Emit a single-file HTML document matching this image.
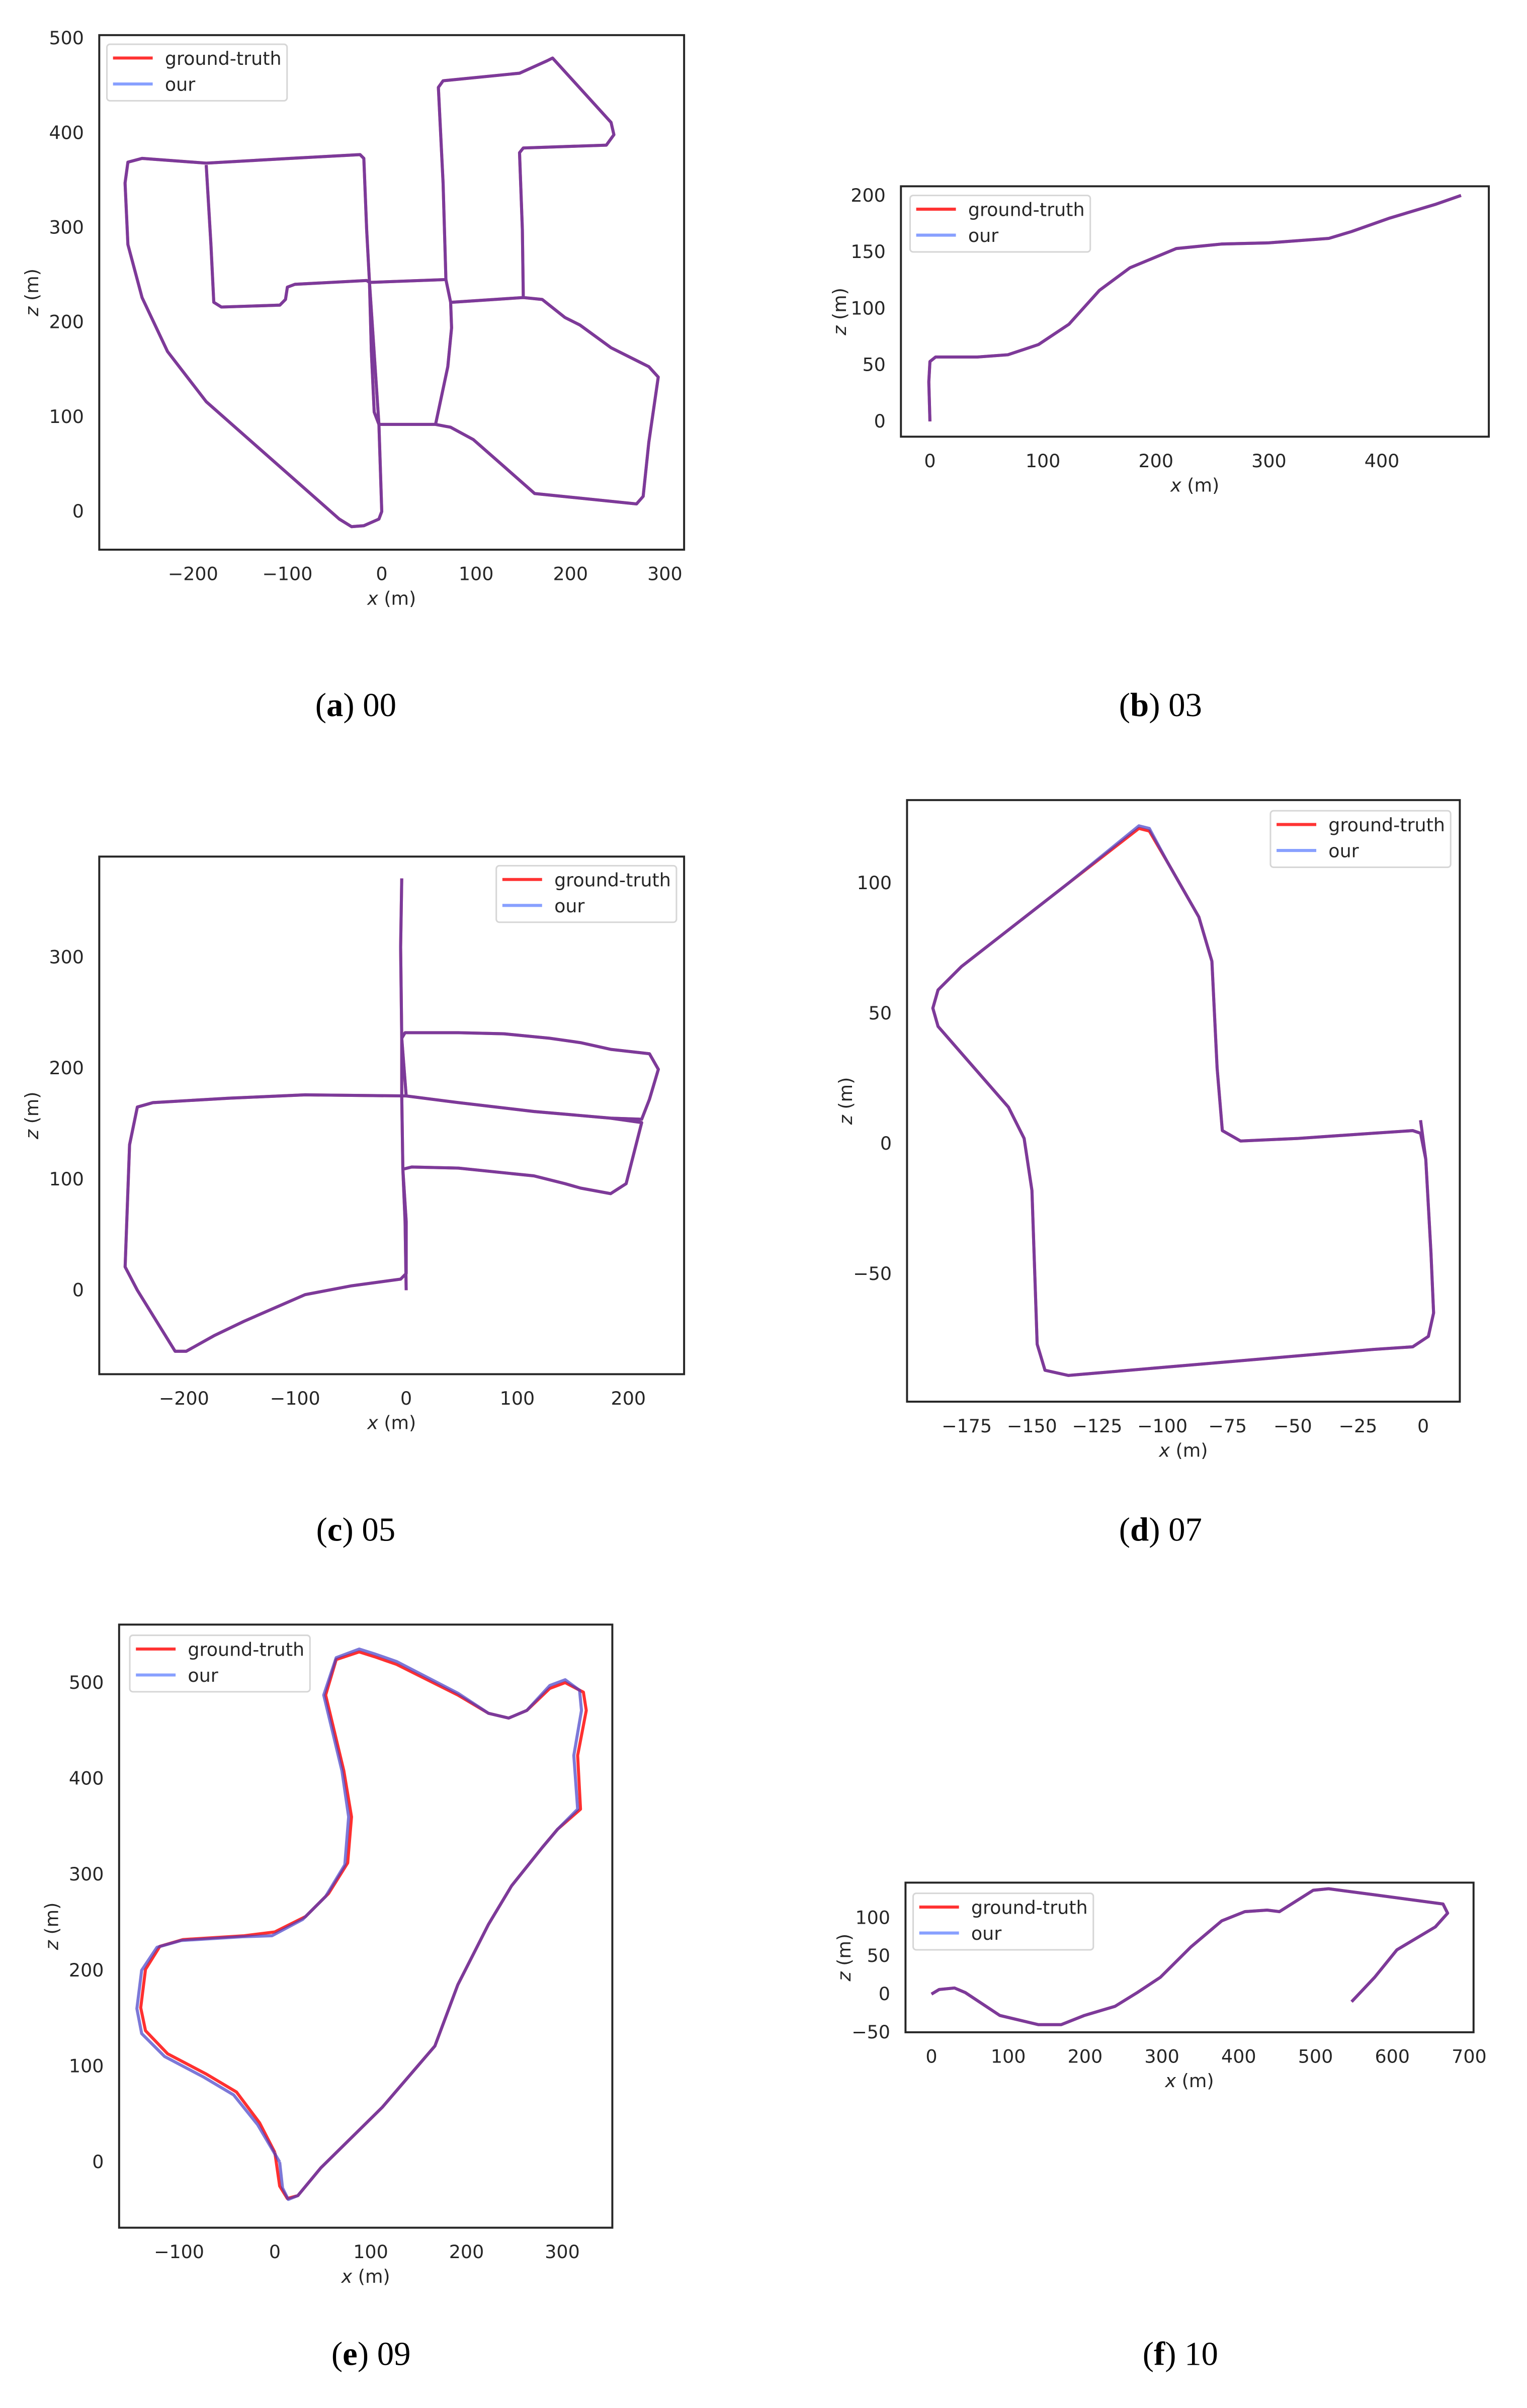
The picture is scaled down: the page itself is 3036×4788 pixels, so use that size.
<!DOCTYPE html>
<html><head><meta charset="utf-8">
<style>
html,body{margin:0;padding:0;background:#fff;}
svg{display:block;}
text{font-family:"DejaVu Sans","Liberation Sans",sans-serif;fill:#262626;}
.cap{font-family:"Liberation Serif",serif;fill:#000;}
</style></head>
<body>
<svg id="fig" xmlns="http://www.w3.org/2000/svg" width="3036" height="4788" viewBox="0 0 1000 1577.08"></svg>
<script>
// ---- data (x, z in metres) ----
const gt00x=[0,-3,-19,-32,-45,-186,-227,-254,-269,-272,-269,-254,-186,-97,-23,-19,-16,-13,-11,-8,-3,24,57,70,74,73,68,65,60,65,146,175,181,243,246,238,150,146,149,150,74,150,170,194,210,243,283,293,283,277,270,162,129,97,73,57,-3,0,-3,-13,68,-13,-16,-92,-100,-102,-108,-170,-178,-181,-186];
const gt00z=[0,-8,-15,-16,-8,116,169,226,282,347,369,373,368,373,377,373,298,242,169,105,92,92,92,153,194,221,245,347,448,455,463,476,479,411,398,387,384,379,298,226,221,226,224,205,197,173,153,142,73,16,8,19,48,76,89,92,92,0,92,242,245,242,244,240,237,224,218,216,221,282,366];
const our00x=gt00x.slice(); const our00z=gt00z.slice();
const gt03x=[0,-1,0,5,42,69,96,123,150,177,218,258,299,353,373,407,447,470];
const gt03z=[0,35,53,57,57,59,68,86,116,136,153,157,158,162,168,180,192,200];
const our03x=[0,-1,0,5,42,69,96,123,150,177,218,258,299,353,373,407,447,470];
const our03z=[0,35,53,57,57,59,68,86,116,136,153,157,158,162,168,180,192,200];
const gt05x=[0,-1,-3,5,47,115,143,157,184,198,212,184,115,47,0,-91,-159,-228,-242,-249,-253,-242,-221,-208,-198,-173,-146,-91,-49,-5,0,0,-3,-4,-4,-1,47,88,129,157,184,219,227,219,212,184,115,47,0,-4,-5,-4];
const gt05z=[0,62,109,111,110,103,96,92,87,96,151,155,161,169,175,176,173,169,165,131,21,0,-34,-55,-55,-41,-28,-4,4,10,15,62,109,175,227,232,232,231,227,223,217,213,199,172,154,155,161,169,175,227,309,371];
const our05x=gt05x.slice(); const our05z=gt05z.slice();
const gt07x=[-1,1,3,4,2,-4,-19,-66,-136,-145,-148,-150,-153,-159,-186,-188,-186,-177,-136,-109,-105,-98,-86,-81,-79,-77,-70,-48,-19,-4,-1,1];
const gt07z=[9,-6,-42,-65,-74,-78,-79,-83,-89,-87,-77,-18,2,14,45,52,59,68,100,121,120,108,87,70,29,5,1,2,4,5,4,-6];
const our07x=[-1,1,3,4,2,-4,-19,-66,-136,-145,-148,-150,-153,-159,-186,-188,-186,-177,-136,-109,-105,-98,-86,-81,-79,-77,-70,-48,-19,-4,-1,1];
const our07z=[9,-6,-42,-65,-74,-78,-79,-83,-89,-87,-77,-18,2,14,45,52,59,68,100,122,121,108,87,70,29,5,1,2,4,5,4,-6];
const gt09x=[0,5,13,24,48,112,167,191,223,247,279,295,319,316,325,322,303,287,263,244,223,191,127,104,88,64,53,72,80,76,56,32,0,-32,-96,-120,-135,-140,-135,-112,-72,-40,-16,0];
const gt09z=[10,-25,-38,-35,-6,57,121,185,248,288,328,347,368,424,471,490,500,494,471,463,468,487,519,527,532,524,487,408,360,312,280,256,240,236,232,225,201,161,137,113,92,73,41,10];
const our09x=[5,8,14,24,48,112,167,191,223,247,279,295,316,312,320,318,303,287,263,244,223,191,127,104,88,64,51,70,77,73,53,29,-3,-34,-98,-123,-139,-144,-139,-115,-75,-43,-18,5];
const our09z=[0,-27,-39,-35,-6,57,121,185,248,288,328,347,368,424,471,492,503,497,471,463,468,489,522,530,535,526,487,408,360,310,277,253,236,235,231,224,200,160,134,110,89,70,39,0];
const gt10x=[0,10,30,44,89,139,169,199,239,268,298,338,378,408,437,453,497,517,577,666,672,656,606,577,547];
const gt10z=[0,6,8,2,-28,-40,-40,-28,-16,2,22,62,96,108,110,108,136,138,130,118,106,88,58,22,-10];
const our10x=gt10x.slice(); const our10z=gt10z.slice();

// ---- panels ----
const panels=[
 {id:'00',L:65,T:23,R:448,B:360,x0:250,xs:0.618,z0:335,zs:0.62,xt:[-200,-100,0,100,200,300],zt:[0,100,200,300,400,500],gx:gt00x,gz:gt00z,ox:our00x,oz:our00z,leg:[70,29],cap:'00',cx:233,cy:462},
 {id:'03',L:590,T:122,R:975,B:286,x0:609,xs:0.74,z0:276,zs:0.74,xt:[0,100,200,300,400],zt:[0,50,100,150,200],gx:gt03x,gz:gt03z,ox:our03x,oz:our03z,leg:[596,128],cap:'03',cx:760,cy:462},
 {id:'05',L:65,T:561,R:448,B:900,x0:266,xs:0.7275,z0:845,zs:0.727,xt:[-200,-100,0,100,200],zt:[0,100,200,300],gx:gt05x,gz:gt05z,ox:our05x,oz:our05z,leg:[325,567],cap:'05',cx:233,cy:1002},
 {id:'07',L:594,T:524,R:956,B:918,x0:932,xs:1.708,z0:749,zs:1.706,xt:[-175,-150,-125,-100,-75,-50,-25,0],zt:[-50,0,50,100],gx:gt07x,gz:gt07z,ox:our07x,oz:our07z,leg:[832,531],cap:'07',cx:760,cy:1002},
 {id:'09',L:78,T:1064,R:401,B:1459,x0:180,xs:0.6275,z0:1416,zs:0.628,xt:[-100,0,100,200,300],zt:[0,100,200,300,400,500],gx:gt09x,gz:gt09z,ox:our09x,oz:our09z,leg:[85,1071],cap:'09',cx:243,cy:1542},
 {id:'10',L:593,T:1233,R:965,B:1331,x0:610,xs:0.503,z0:1306,zs:0.5,xt:[0,100,200,300,400,500,600,700],zt:[-50,0,50,100],gx:gt10x,gz:gt10z,ox:our10x,oz:our10z,leg:[598,1240],cap:'10',cx:773,cy:1542}
];
const NS='http://www.w3.org/2000/svg';
const svg=document.getElementById('fig');
function mk(tag,attrs,parent){const e=document.createElementNS(NS,tag);for(const k in attrs)e.setAttribute(k,attrs[k]);(parent||svg).appendChild(e);return e;}
function fmt(v){return v<0?'\u2212'+(-v):''+v;}
panels.forEach(p=>{
  const g=mk('g',{});
  
  
  const X=v=>p.x0+v*p.xs, Z=v=>p.z0-v*p.zs;
  const cp='clip'+p.id;
  const cl=mk('clipPath',{id:cp},g); mk('rect',{x:p.L,y:p.T,width:p.R-p.L,height:p.B-p.T},cl);
  const pts=(xs,zs)=>xs.map((x,i)=>X(x).toFixed(2)+','+Z(zs[i]).toFixed(2)).join(' ');
  const gl=mk('polyline',{points:pts(p.gx,p.gz),fill:'none',stroke:'#ff3030','stroke-width':2,'stroke-linejoin':'round','clip-path':'url(#'+cp+')'},g);
  
  
  const ol=mk('polyline',{points:pts(p.ox,p.oz),fill:'none',stroke:'rgb(69,62,200)','stroke-opacity':0.7,'stroke-width':2,'stroke-linejoin':'round','clip-path':'url(#'+cp+')'},g);
  
  
  const fr=mk('rect',{x:p.L,y:p.T,width:p.R-p.L,height:p.B-p.T,fill:'none',stroke:'#262626','stroke-width':1.3},g);
  
  
  p.xt.forEach(v=>{
    const t=mk('text',{x:X(v),y:p.B+20,'font-size':12,'text-anchor':'middle'},g);t.textContent=fmt(v);
    
    
  });
  p.zt.forEach(v=>{
    const t=mk('text',{x:p.L-10,y:Z(v)+4,'font-size':12,'text-anchor':'end'},g);t.textContent=fmt(v);
    
    
  });
  const xl=mk('text',{x:(p.L+p.R)/2,y:p.B+36,'font-size':12,'text-anchor':'middle'},g);
  xl.innerHTML='<tspan font-style="italic">x</tspan> (m)';
  
  
  const lblX=p.L-(p.id==='10'||p.id==='03'||p.id==='07'?36:40);
  const yl=mk('text',{x:lblX,y:(p.T+p.B)/2,'font-size':12,'text-anchor':'middle',transform:'rotate(-90 '+lblX+' '+((p.T+p.B)/2)+')'},g);
  yl.innerHTML='<tspan font-style="italic">z</tspan> (m)';
  
  
  const lg=mk('g',{},g);
  
  
  const [lx,ly]=p.leg;
  mk('rect',{x:lx,y:ly,width:118,height:37,rx:2,fill:'#fff',stroke:'#d6d6d6','stroke-width':1},lg);
  mk('line',{x1:lx+4,y1:ly+9,x2:lx+30,y2:ly+9,stroke:'#ff3333','stroke-width':2},lg);
  mk('line',{x1:lx+4,y1:ly+26,x2:lx+30,y2:ly+26,stroke:'#88a0ff','stroke-width':2},lg);
  const t1=mk('text',{x:lx+38,y:ly+13.5,'font-size':12},lg);t1.textContent='ground-truth';
  
  
  const t2=mk('text',{x:lx+38,y:ly+30.5,'font-size':12},lg);t2.textContent='our';
  
  
  const letter=String.fromCharCode(97+panels.indexOf(p));
  const c=mk('text',{x:p.cx,y:p.cy+7,'font-size':22,'text-anchor':'middle','class':'cap'},g);
  c.innerHTML='(<tspan font-weight="bold">'+letter+'</tspan>) '+p.cap;
  
  
});
</script>
</body></html>
